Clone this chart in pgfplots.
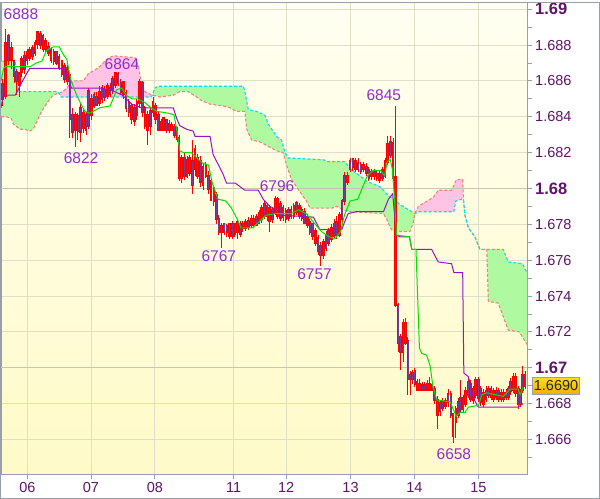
\documentclass[border=0pt]{standalone}
\usepackage{pgfplots}
\pgfplotsset{compat=1.18}
\usepackage{pgfplotstable}
\usepgfplotslibrary{fillbetween}
\usepackage{fontspec}
\setmainfont{Liberation Sans}
\definecolor{bgtop}{RGB}{255,255,242}
\definecolor{bgbot}{RGB}{255,250,200}
\definecolor{gridc}{RGB}{224,222,200}
\definecolor{gridd}{RGB}{200,198,178}
\definecolor{framec}{RGB}{150,160,170}
\definecolor{ticklab}{RGB}{95,20,105}
\definecolor{annot}{RGB}{145,45,205}
\definecolor{kumogreen}{RGB}{175,250,160}
\definecolor{kumopink}{RGB}{255,195,230}
\definecolor{spana}{RGB}{0,225,235}
\definecolor{spanb}{RGB}{240,130,130}
\definecolor{tenkan}{RGB}{0,225,0}
\definecolor{kijun}{RGB}{150,20,200}
\definecolor{candle}{RGB}{255,0,0}
\definecolor{candlein}{RGB}{120,60,150}
\definecolor{goldtop}{RGB}{255,220,40}
\definecolor{goldbot}{RGB}{240,175,0}

\pgfplotstableread{
x bt bb h l
7 1.6858 1.6850 1.6861 1.6846
15 1.6881 1.6852 1.6889 1.6850
22 1.6885 1.6872 1.6886 1.6869
30 1.6878 1.6872 1.6882 1.6867
37 1.6871 1.6863 1.6872 1.6859
44 1.6865 1.6860 1.6867 1.6852
51 1.6864 1.6858 1.6865 1.6851
57 1.6872 1.6865 1.6874 1.6862
64 1.6874 1.6867 1.6877 1.6864
71 1.6876 1.6872 1.6878 1.6869
78 1.6877 1.6873 1.6879 1.6871
85 1.6878 1.6874 1.6880 1.6872
92 1.6881 1.6876 1.6883 1.6874
99 1.6887 1.6881 1.6888 1.6878
106 1.6886 1.6880 1.6888 1.6878
113 1.6885 1.6878 1.6886 1.6876
120 1.6882 1.6878 1.6884 1.6876
127 1.6879 1.6876 1.6882 1.6874
134 1.6877 1.6872 1.6879 1.6870
141 1.6876 1.6871 1.6878 1.6869
148 1.6876 1.6870 1.6877 1.6869
155 1.6873 1.6868 1.6875 1.6866
162 1.6871 1.6864 1.6872 1.6862
169 1.6868 1.6861 1.6870 1.6859
176 1.6867 1.6860 1.6869 1.6858
183 1.6863 1.6839 1.6865 1.6828
190 1.6841 1.6832 1.6845 1.6828
197 1.6841 1.6833 1.6843 1.6823
204 1.6840 1.6832 1.6842 1.6827
211 1.6845 1.6832 1.6847 1.6826
218 1.6842 1.6834 1.6845 1.6831
225 1.6841 1.6833 1.6843 1.6830
232 1.6854 1.6835 1.6856 1.6833
239 1.6850 1.6841 1.6853 1.6838
246 1.6852 1.6846 1.6854 1.6845
253 1.6851 1.6847 1.6854 1.6846
260 1.6854 1.6848 1.6857 1.6846
267 1.6856 1.6850 1.6858 1.6848
274 1.6855 1.6851 1.6857 1.6849
281 1.6857 1.6852 1.6859 1.6850
288 1.6856 1.6853 1.6859 1.6851
295 1.6861 1.6855 1.6863 1.6853
302 1.6864 1.6858 1.6865 1.6856
309 1.6864 1.6859 1.6865 1.6857
316 1.6859 1.6854 1.6861 1.6852
323 1.6859 1.6853 1.6860 1.6850
330 1.6853 1.6845 1.6855 1.6843
337 1.6848 1.6843 1.6850 1.6840
344 1.6846 1.6839 1.6848 1.6836
351 1.6845 1.6838 1.6847 1.6835
358 1.6848 1.6841 1.6850 1.6838
365 1.6859 1.6848 1.6861 1.6845
372 1.6859 1.6843 1.6860 1.6840
379 1.6845 1.6835 1.6846 1.6833
386 1.6841 1.6833 1.6843 1.6824
393 1.6843 1.6835 1.6845 1.6830
400 1.6848 1.6843 1.6851 1.6840
407 1.6846 1.6839 1.6848 1.6836
414 1.6841 1.6833 1.6843 1.6832
421 1.6837 1.6833 1.6839 1.6832
428 1.6839 1.6833 1.6840 1.6832
435 1.6838 1.6833 1.6839 1.6831
442 1.6836 1.6833 1.6838 1.6831
449 1.6835 1.6833 1.6837 1.6832
456 1.6834 1.6830 1.6836 1.6828
463 1.6832 1.6828 1.6834 1.6826
468 1.6828 1.6806 1.6830 1.6804
475 1.6817 1.6806 1.6819 1.6803
482 1.6817 1.6807 1.6820 1.6805
489 1.6816 1.6807 1.6818 1.6806
496 1.6817 1.6809 1.6819 1.6807
503 1.6815 1.6802 1.6827 1.6797
510 1.6822 1.6811 1.6824 1.6807
517 1.6817 1.6807 1.6819 1.6805
524 1.6815 1.6804 1.6818 1.6801
531 1.6812 1.6802 1.6814 1.6799
538 1.6813 1.6807 1.6815 1.6806
545 1.6807 1.6800 1.6810 1.6797
552 1.6804 1.6794 1.6805 1.6793
559 1.6800 1.6793 1.6802 1.6790
566 1.6796 1.6783 1.6798 1.6780
572 1.6783 1.6776 1.6785 1.6774
579 1.6779 1.6776 1.6781 1.6767
586 1.6780 1.6776 1.6781 1.6774
593 1.6779 1.6776 1.6780 1.6773
600 1.6780 1.6774 1.6781 1.6772
607 1.6780 1.6774 1.6782 1.6772
614 1.6780 1.6775 1.6781 1.6773
621 1.6781 1.6776 1.6783 1.6772
628 1.6780 1.6775 1.6782 1.6773
635 1.6780 1.6778 1.6782 1.6776
642 1.6781 1.6778 1.6783 1.6776
649 1.6782 1.6779 1.6784 1.6777
656 1.6783 1.6780 1.6785 1.6778
663 1.6783 1.6780 1.6785 1.6778
670 1.6784 1.6780 1.6786 1.6779
677 1.6786 1.6781 1.6788 1.6780
684 1.6789 1.6783 1.6791 1.6781
691 1.6791 1.6785 1.6793 1.6783
698 1.6790 1.6785 1.6792 1.6782
705 1.6789 1.6782 1.6791 1.6776
712 1.6788 1.6783 1.6790 1.6781
719 1.6794 1.6787 1.6796 1.6785
726 1.6794 1.6785 1.6795 1.6783
733 1.6791 1.6784 1.6793 1.6782
740 1.6789 1.6784 1.6791 1.6782
747 1.6787 1.6783 1.6789 1.6781
754 1.6788 1.6784 1.6790 1.6782
761 1.6788 1.6785 1.6790 1.6783
768 1.6790 1.6785 1.6792 1.6783
775 1.6792 1.6787 1.6793 1.6785
782 1.6790 1.6785 1.6792 1.6783
789 1.6788 1.6784 1.6790 1.6782
796 1.6787 1.6781 1.6789 1.6780
803 1.6784 1.6780 1.6786 1.6778
810 1.6781 1.6776 1.6783 1.6774
817 1.6780 1.6774 1.6781 1.6771
824 1.6776 1.6770 1.6778 1.6768
831 1.6772 1.6765 1.6774 1.6763
838 1.6768 1.6763 1.6770 1.6757
845 1.6770 1.6763 1.6772 1.6761
852 1.6774 1.6767 1.6776 1.6765
859 1.6776 1.6770 1.6778 1.6768
866 1.6778 1.6772 1.6780 1.6770
873 1.6780 1.6774 1.6783 1.6772
880 1.6781 1.6774 1.6785 1.6772
887 1.6785 1.6774 1.6787 1.6773
894 1.6793 1.6783 1.6794 1.6781
901 1.6807 1.6793 1.6809 1.6791
908 1.6807 1.6804 1.6809 1.6802
915 1.6815 1.6811 1.6817 1.6809
922 1.6816 1.6812 1.6817 1.6810
929 1.6815 1.6811 1.6817 1.6809
936 1.6814 1.6811 1.6817 1.6809
943 1.6813 1.6810 1.6815 1.6808
950 1.6813 1.6811 1.6815 1.6809
957 1.6812 1.6809 1.6814 1.6807
964 1.6810 1.6806 1.6812 1.6804
971 1.6809 1.6807 1.6811 1.6805
978 1.6809 1.6807 1.6811 1.6805
985 1.6808 1.6806 1.6810 1.6804
992 1.6808 1.6805 1.6810 1.6803
999 1.6810 1.6806 1.6812 1.6804
1006 1.6815 1.6807 1.6817 1.6806
1013 1.6825 1.6815 1.6829 1.6813
1020 1.6826 1.6819 1.6829 1.6817
1027 1.6825 1.6806 1.6828 1.6804
1033 1.6806 1.6735 1.6846 1.6734
1040 1.6735 1.6714 1.6736 1.6709
1046 1.6717 1.6709 1.6719 1.6699
1053 1.6725 1.6709 1.6727 1.6703
1059 1.6725 1.6714 1.6728 1.6713
1066 1.6715 1.6694 1.6717 1.6685
1072 1.6696 1.6694 1.6698 1.6685
1078 1.6697 1.6694 1.6699 1.6691
1084 1.6698 1.6691 1.6700 1.6689
1090 1.6692 1.6688 1.6694 1.6687
1096 1.6691 1.6688 1.6694 1.6687
1103 1.6690 1.6688 1.6692 1.6687
1110 1.6690 1.6688 1.6692 1.6687
1116 1.6691 1.6688 1.6693 1.6687
1122 1.6691 1.6688 1.6695 1.6687
1129 1.6690 1.6688 1.6692 1.6687
1136 1.6688 1.6682 1.6690 1.6680
1143 1.6682 1.6674 1.6684 1.6666
1150 1.6680 1.6676 1.6682 1.6673
1157 1.6681 1.6678 1.6683 1.6676
1164 1.6681 1.6679 1.6683 1.6677
1171 1.6685 1.6681 1.6688 1.6678
1178 1.6685 1.6674 1.6687 1.6672
1184 1.6674 1.6662 1.6675 1.6658
1191 1.6677 1.6670 1.6679 1.6661
1198 1.6681 1.6674 1.6683 1.6672
1204 1.6683 1.6677 1.6693 1.6675
1210 1.6683 1.6677 1.6685 1.6675
1217 1.6687 1.6680 1.6689 1.6678
1224 1.6692 1.6685 1.6695 1.6683
1230 1.6691 1.6683 1.6693 1.6681
1237 1.6688 1.6682 1.6690 1.6680
1243 1.6693 1.6685 1.6695 1.6683
1250 1.6693 1.6683 1.6695 1.6681
1256 1.6688 1.6681 1.6690 1.6679
1263 1.6686 1.6680 1.6688 1.6678
1270 1.6687 1.6683 1.6690 1.6681
1276 1.6688 1.6685 1.6690 1.6683
1283 1.6688 1.6684 1.6690 1.6682
1289 1.6687 1.6683 1.6689 1.6681
1296 1.6687 1.6684 1.6689 1.6682
1302 1.6687 1.6683 1.6689 1.6681
1309 1.6686 1.6683 1.6688 1.6681
1315 1.6686 1.6683 1.6688 1.6681
1322 1.6686 1.6684 1.6688 1.6682
1328 1.6688 1.6684 1.6690 1.6682
1334 1.6692 1.6687 1.6694 1.6685
1341 1.6695 1.6688 1.6697 1.6686
1347 1.6695 1.6686 1.6697 1.6684
1354 1.6688 1.6680 1.6690 1.6677
1360 1.6686 1.6680 1.6688 1.6678
1366 1.6696 1.6688 1.6701 1.6686
1372 1.6696 1.6690 1.6698 1.6688
}\candles

\pgfplotstableread{
x y
3 1.6860
10 1.6867
15 1.6868
80 1.6868
95 1.6870
110 1.6871
122 1.6877
140 1.6879
155 1.6879
165 1.6875
175 1.6872
185 1.6861
195 1.6855
205 1.6850
222 1.6843
235 1.6842
261 1.6845
288 1.6846
296 1.6850
305 1.6855
318 1.6856
330 1.6852
345 1.6850
360 1.6850
378 1.6848
395 1.6845
410 1.6843
440 1.6842
455 1.6841
462 1.6833
470 1.6821
480 1.6820
500 1.6820
510 1.6818
530 1.6814
545 1.6813
555 1.6803
570 1.6794
590 1.6793
605 1.6789
620 1.6783
630 1.6778
660 1.6778
680 1.6782
695 1.6785
720 1.6786
760 1.6786
780 1.6788
800 1.6786
820 1.6781
840 1.6776
860 1.6773
875 1.6772
890 1.6776
900 1.6785
915 1.6793
935 1.6794
950 1.6802
960 1.6807
975 1.6810
995 1.6810
1005 1.6807
1012 1.6815
1020 1.6816
1025 1.6811
1030 1.6797
1036 1.6774
1070 1.6773
1076 1.6766
1087 1.6766
1096 1.6711
1102 1.6708
1115 1.6707
1124 1.6701
1131 1.6690
1141 1.6682
1176 1.6681
1192 1.6673
1202 1.6675
1215 1.6675
1224 1.6678
1250 1.6679
1259 1.6685
1272 1.6686
1293 1.6685
1315 1.6684
1333 1.6688
1354 1.6688
1359 1.6685
1367 1.6689
}\tenkan

\pgfplotstableread{
x y
3 1.6845
9 1.6852
40 1.6852
48 1.6855
57 1.6859
70 1.6864
78 1.6867
87 1.6867
161 1.6867
174 1.6864
187 1.6856
261 1.6856
290 1.6855
320 1.6852
345 1.6847
370 1.6845
453 1.6845
462 1.6839
470 1.6835
488 1.6833
505 1.6832
510 1.6829
549 1.6829
557 1.6819
583 1.6808
592 1.6803
615 1.6803
640 1.6799
675 1.6799
688 1.6794
705 1.6790
723 1.6788
740 1.6785
819 1.6784
836 1.6777
893 1.6777
900 1.6781
910 1.6786
930 1.6787
1002 1.6787
1015 1.6794
1026 1.6797
1036 1.6774
1045 1.6773
1070 1.6773
1076 1.6766
1128 1.6766
1145 1.6759
1180 1.6758
1186 1.6753
1209 1.6753
1212 1.6697
1224 1.6695
1237 1.6683
1250 1.6678
1354 1.6678
1367 1.6680
}\kijun

\pgfplotstableread{
x y
3 1.6871
40 1.6871
48 1.6854
150 1.6854
155 1.6853
160 1.6851
395 1.6851
398 1.6852
405 1.6856
413 1.6857
636 1.6857
640 1.6854
649 1.6844
670 1.6843
692 1.6841
701 1.6836
723 1.6829
736 1.6827
745 1.6820
753 1.6817
845 1.6816
854 1.6815
901 1.6815
915 1.6811
941 1.6807
958 1.6804
993 1.6801
1015 1.6796
1028 1.6794
1045 1.6791
1084 1.6786
1097 1.6787
1186 1.6787
1191 1.6793
1206 1.6794
1211 1.6794
1215 1.6785
1224 1.6778
1241 1.6773
1254 1.6766
1315 1.6766
1328 1.6759
1365 1.6758
1377 1.6753
}\spanA

\pgfplotstableread{
x y
3 1.6840
17 1.6840
30 1.6839
35 1.6836
52 1.6833
65 1.6833
78 1.6832
87 1.6833
96 1.6837
109 1.6843
118 1.6846
131 1.6850
139 1.6852
152 1.6853
155 1.6853
170 1.6855
187 1.6859
196 1.6860
218 1.6860
231 1.6864
248 1.6866
261 1.6868
279 1.6872
296 1.6874
353 1.6873
362 1.6868
370 1.6859
379 1.6854
398 1.6852
401 1.6852
418 1.6851
453 1.6852
470 1.6854
492 1.6854
514 1.6851
527 1.6849
549 1.6847
584 1.6846
601 1.6845
618 1.6843
640 1.6843
645 1.6833
658 1.6827
679 1.6826
697 1.6824
723 1.6821
740 1.6820
749 1.6813
762 1.6805
784 1.6798
801 1.6793
810 1.6789
867 1.6789
880 1.6790
897 1.6788
915 1.6787
1002 1.6786
1010 1.6783
1023 1.6777
1032 1.6776
1071 1.6776
1080 1.6781
1084 1.6786
1093 1.6790
1132 1.6795
1145 1.6799
1180 1.6799
1193 1.6805
1209 1.6805
1211 1.6794
1215 1.6785
1224 1.6778
1241 1.6773
1254 1.6766
1272 1.6766
1276 1.6737
1302 1.6736
1328 1.6721
1357 1.6720
1377 1.6713
}\spanB

\begin{document}
\begin{tikzpicture}
\begin{axis}[
  at={(1pt,24.5pt)}, anchor=south west,
  scale only axis, width=526pt, height=471.5pt,
  xmin=3, xmax=1377, ymin=1.66405, ymax=1.69035,
  axis background/.style={top color=bgtop, bottom color=bgbot},
  axis line style={framec, line width=1pt},
  xtick={72,238,405,611,748,916,1083,1250},
  xticklabels={06,07,08,11,12,13,14,15},
  ytick={1.666,1.668,1.670,1.672,1.674,1.676,1.678,1.680,1.682,1.684,1.686,1.688,1.690},
  yticklabels={1.666,1.668,{\fontsize{16.5}{18}\selectfont\bfseries 1.67},1.672,1.674,1.676,1.678,{\fontsize{16.5}{18}\selectfont\bfseries 1.68},1.682,1.684,1.686,1.688,{\fontsize{16.5}{18}\selectfont\bfseries 1.69}},
  minor ytick={1.665,1.667,1.669,1.671,1.673,1.675,1.677,1.679,1.681,1.683,1.685,1.687,1.689},
  ytick pos=right, yticklabel pos=right, xtick pos=left,
  tick align=outside, major tick length=5pt, minor tick length=5pt,
  tick style={framec, line width=0.8pt},
  grid=major, major grid style={gridc, line width=0.8pt},
  ticklabel style={font=\fontsize{14.5}{16}\selectfont, text=ticklab},
  yticklabel style={anchor=west, inner xsep=3pt},
  xticklabel style={inner ysep=3pt},
]
\draw[gridd, line width=0.8pt] (axis cs:3,1.68) -- (axis cs:1377,1.68);
\draw[gridd, line width=0.8pt] (axis cs:3,1.67) -- (axis cs:1377,1.67);

\addplot[draw=none, name path=A1, forget plot, restrict x to domain=3:155] table[x=x,y=y] {\spanA};
\addplot[draw=none, name path=B1, forget plot, restrict x to domain=3:155] table[x=x,y=y] {\spanB};
\addplot[draw=none, name path=A2, forget plot, restrict x to domain=155:398] table[x=x,y=y] {\spanA};
\addplot[draw=none, name path=B2, forget plot, restrict x to domain=155:398] table[x=x,y=y] {\spanB};
\addplot[draw=none, name path=A3, forget plot, restrict x to domain=398:1084] table[x=x,y=y] {\spanA};
\addplot[draw=none, name path=B3, forget plot, restrict x to domain=398:1084] table[x=x,y=y] {\spanB};
\addplot[draw=none, name path=A4, forget plot, restrict x to domain=1084:1211] table[x=x,y=y] {\spanA};
\addplot[draw=none, name path=B4, forget plot, restrict x to domain=1084:1211] table[x=x,y=y] {\spanB};
\addplot[draw=none, name path=A5, forget plot, restrict x to domain=1211:1377] table[x=x,y=y] {\spanA};
\addplot[draw=none, name path=B5, forget plot, restrict x to domain=1211:1377] table[x=x,y=y] {\spanB};
\addplot[kumogreen, forget plot] fill between[of=A1 and B1];
\addplot[kumopink, forget plot] fill between[of=A2 and B2];
\addplot[kumogreen, forget plot] fill between[of=A3 and B3];
\addplot[kumopink, forget plot] fill between[of=A4 and B4];
\addplot[kumogreen, forget plot] fill between[of=A5 and B5];
\addplot[spanb, line width=1.1pt, dash pattern=on 3pt off 2pt, forget plot] table[x=x,y=y] {\spanB};
\addplot[spana, line width=1.1pt, dash pattern=on 3pt off 2pt, forget plot] table[x=x,y=y] {\spanA};

\addplot[draw=none, mark=none, forget plot,
  error bars/.cd, y dir=both, y explicit, error mark=none,
  error bar style={draw=candle, line width=0.9pt, solid}]
  table[x=x, y expr={(\thisrow{h}+\thisrow{l})/2}, y error expr={(\thisrow{h}-\thisrow{l})/2}] {\candles};
\addplot[draw=none, mark=none, forget plot,
  error bars/.cd, y dir=both, y explicit, error mark=none,
  error bar style={draw=candle, line width=2.6pt, solid, line cap=rect}]
  table[x=x, y expr={(\thisrow{bt}+\thisrow{bb})/2}, y error expr={(\thisrow{bt}-\thisrow{bb})/2}] {\candles};
\addplot[draw=none, mark=none, forget plot,
  error bars/.cd, y dir=both, y explicit, error mark=none,
  error bar style={draw=candlein, line width=0.8pt, solid, line cap=butt}]
  table[x=x, y expr={(\thisrow{bt}+\thisrow{bb})/2}, y error expr={(\thisrow{bt}-\thisrow{bb})/2}] {\candles};

\addplot[kijun, line width=1pt, forget plot] table[x=x,y=y] {\kijun};
\addplot[tenkan, line width=1pt, forget plot] table[x=x,y=y] {\tenkan};

\begin{scope}[every node/.style={font=\fontsize{15.5}{17}\selectfont, text=annot, inner sep=0pt}]
\node at (axis cs:55,1.6897) {6888};
\node at (axis cs:319,1.68695) {6864};
\node at (axis cs:212,1.6817) {6822};
\node at (axis cs:572,1.6762) {6767};
\node at (axis cs:724,1.6801) {6796};
\node at (axis cs:822,1.6752) {6757};
\node at (axis cs:1003,1.6852) {6845};
\node at (axis cs:1186,1.6652) {6658};
\end{scope}
\coordinate (pricept) at (axis cs:1377,1.669);
\end{axis}
\node[anchor=west, xshift=5pt, top color=goldtop, bottom color=goldbot, draw=framec, line width=0.8pt,
  inner xsep=1.5pt, inner ysep=3.5pt, font=\fontsize{14.5}{16}\selectfont, text=black!85] at (pricept) {1.6690};
\useasboundingbox (0,0) rectangle (600pt,497pt);
\draw[framec, line width=1pt] (0.5pt,0.5pt) rectangle (599.5pt,496.5pt);
\end{tikzpicture}
\end{document}
